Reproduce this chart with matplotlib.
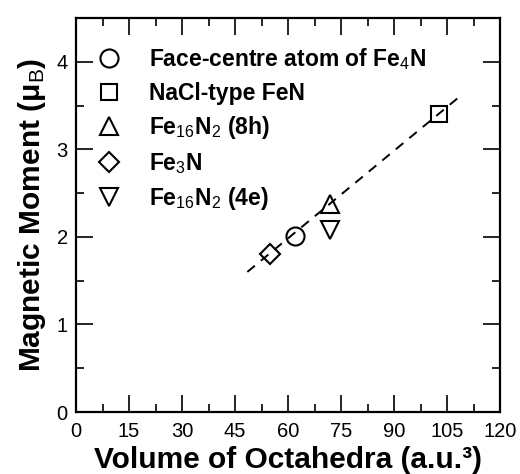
import matplotlib
matplotlib.use("Agg")
import matplotlib.pyplot as plt
from matplotlib.ticker import MultipleLocator

plt.rcParams['font.family'] = ['Liberation Sans', 'DejaVu Sans']
plt.rcParams['mathtext.fontset'] = 'custom'
plt.rcParams['mathtext.rm'] = 'Liberation Sans'
plt.rcParams['mathtext.bf'] = 'Liberation Sans:bold'
plt.rcParams['mathtext.it'] = 'Liberation Sans:italic'

# data
labels = ['Face-centre atom of Fe$_\\mathrm{4}$N',
          'NaCl-type FeN',
          'Fe$_\\mathrm{16}$N$_\\mathrm{2}$ (8h)',
          'Fe$_\\mathrm{3}$N',
          'Fe$_\\mathrm{16}$N$_\\mathrm{2}$ (4e)']
markers = ['o', 's', '^', 'D', 'v']
volume = [62.0, 102.7, 72.0, 55.0, 72.0]
moment = [2.01, 3.40, 2.37, 1.80, 2.08]

fit_x = [48.5, 108.5]
fit_y = [1.60, 3.60]

msizes = {'o': 13, 's': 11, '^': 13, 'D': 10, 'v': 13}

fig = plt.figure(figsize=(5.2, 4.74), dpi=100)
ax = fig.add_axes([76/520, 1-412/474, 424/520, 394/474])

ax.plot(fit_x, fit_y, color='black', lw=1.4, ls=(0, (5, 4)), zorder=1)

for v, m, mk, lab in zip(volume, moment, markers, labels):
    ax.plot(v, m, marker=mk, ls='none', ms=msizes[mk], mfc='none', mec='black',
            mew=1.5, label=lab, zorder=2)

ax.set_xlim(0, 120)
ax.set_ylim(0, 4.5)
ax.xaxis.set_major_locator(MultipleLocator(15))
ax.xaxis.set_minor_locator(MultipleLocator(7.5))
ax.yaxis.set_major_locator(MultipleLocator(1))
ax.yaxis.set_minor_locator(MultipleLocator(0.5))
ax.tick_params(which='both', direction='in', top=True, right=True, width=1.2, labelsize=14.5)
ax.tick_params(which='major', length=12)
ax.tick_params(axis='x', which='major', pad=7)
ax.tick_params(axis='y', which='major', pad=6)
ax.tick_params(which='minor', length=6)
for s in ax.spines.values():
    s.set_linewidth(1.6)

ax.set_xlabel('Volume of Octahedra (a.u.³)', fontsize=21.5, fontweight='bold')
ax.xaxis.label.set_va('bottom')
ax.xaxis.set_label_coords(0.5, -62/394)
ax.set_ylabel('Magnetic Moment (μ$_\\mathrm{B}$)', fontsize=21.5, fontweight='bold', labelpad=6)

leg = ax.legend(loc='upper left', frameon=False, prop={'weight': 'bold', 'size': 16.5},
                handletextpad=1.05, labelspacing=0.42, borderaxespad=0.0,
                handlelength=1.4, bbox_to_anchor=(0.019, 0.952))

fig.savefig('out.png', dpi=100)
